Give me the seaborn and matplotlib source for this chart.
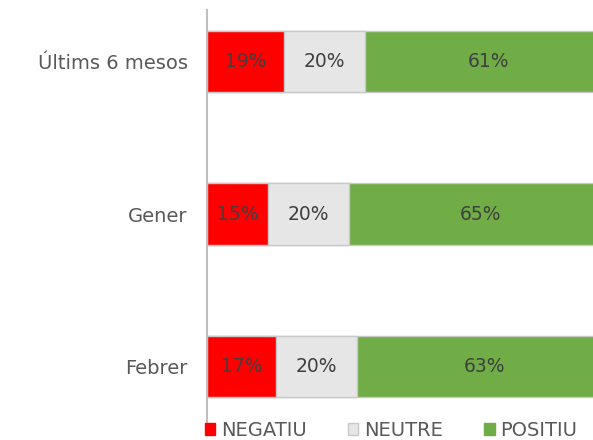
import matplotlib.pyplot as plt
import numpy as np
import pandas as pd
import seaborn as sns
from matplotlib.patches import Patch

# data
periods = ["Últims 6 mesos", "Gener", "Febrer"]
negatiu = [19, 15, 17]
neutre = [20, 20, 20]
positiu = [61, 65, 63]
series_names = ["NEGATIU", "NEUTRE", "POSITIU"]
colors = ["#ff0000", "#e6e6e6", "#70ad47"]

sns.set_style("white")
plt.rcParams['font.family'] = ['DejaVu Sans']

df = pd.DataFrame({"period": periods, "NEGATIU": negatiu,
                   "NEUTRE": neutre, "POSITIU": positiu})
cum = df[series_names].cumsum(axis=1)

fig = plt.figure(figsize=(5.93, 4.40), dpi=100)
# the source picture is cut off on the right, so the axes run past the figure edge
ax = fig.add_axes([207 / 593, 15 / 440, 405 / 593, 415 / 440])

# draw stacked bars from the total downwards
for name, col in zip(reversed(series_names), reversed(colors)):
    sns.barplot(x=cum[name], y=df["period"], orient="h", color=col,
                saturation=1, width=0.4, edgecolor="#c8c8c8", linewidth=1, ax=ax)

# percentage labels
for i in range(len(periods)):
    left = 0
    for name in series_names:
        v = df.loc[i, name]
        ax.text(left + v / 2, i, f"{v}%", ha="center", va="center",
                fontsize=13.5, color="#404040")
        left += v

ax.set_xlim(0, 100)
ax.set_ylim(2.38, -0.335)
ax.set_xlabel("")
ax.set_ylabel("")
ax.set_xticks([])
ax.tick_params(axis="y", length=0, pad=14, labelsize=14, labelcolor="#595959")
for s in ["top", "right", "bottom"]:
    ax.spines[s].set_visible(False)
ax.spines["left"].set_color("#bfbfbf")
ax.spines["left"].set_linewidth(1.5)

handles = [Patch(facecolor=c, edgecolor="#c8c8c8" if c == "#e6e6e6" else c)
           for c in colors]
fig.legend(handles, series_names, loc="lower left", bbox_to_anchor=(187 / 593, -0.04),
           ncol=3, frameon=False, fontsize=14, labelcolor="#595959",
           handlelength=0.55, handleheight=0.55, handletextpad=0.3, columnspacing=2.1)

fig.savefig("out.png", dpi=100)
